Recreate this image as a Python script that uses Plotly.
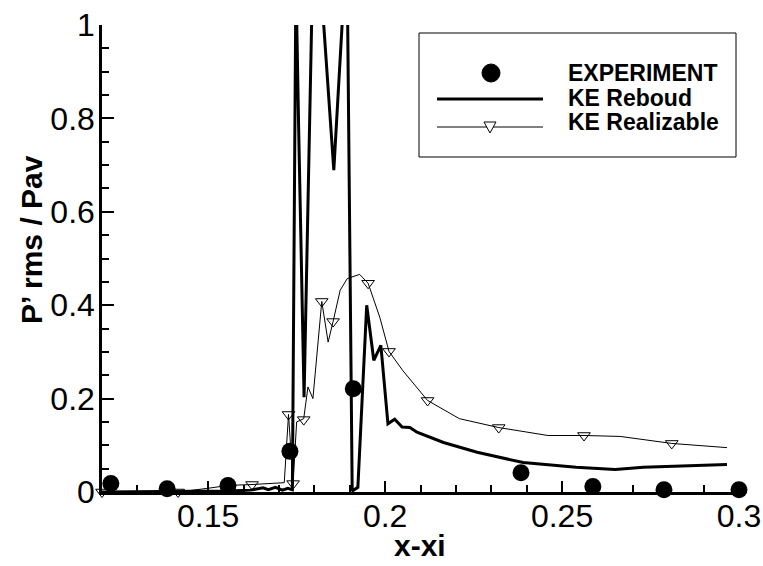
import plotly.graph_objects as go

# ---------------- data ----------------
exp_x = [0.1225, 0.1384, 0.1556, 0.1731, 0.1910, 0.2384, 0.2587, 0.2788, 0.3000]
exp_y = [0.018, 0.007, 0.014, 0.087, 0.221, 0.041, 0.012, 0.005, 0.005]

reboud_x = [0.1200, 0.1400, 0.1550, 0.1620, 0.1655, 0.1670, 0.1690, 0.1710, 0.1725,
            0.1738, 0.1748, 0.1756, 0.1771, 0.1800, 0.1855, 0.1892, 0.1907, 0.1923,
            0.1948, 0.1968, 0.1988, 0.2008, 0.2027, 0.2048, 0.2070, 0.2090, 0.2165,
            0.2260, 0.2390, 0.2540, 0.2650, 0.2730, 0.2966]
reboud_y = [0.000, 0.001, 0.002, 0.004, 0.009, 0.005, 0.010, 0.004, 0.008,
            0.005, 1.100, 0.768, 0.203, 1.290, 0.689, 1.180, 0.002, 0.010,
            0.400, 0.282, 0.314, 0.146, 0.156, 0.139, 0.138, 0.128, 0.106,
            0.085, 0.063, 0.053, 0.048, 0.053, 0.059]

real_x = [0.1200, 0.1415, 0.1500, 0.1556, 0.1624, 0.1700, 0.1715, 0.1727, 0.1740,
          0.1750, 0.1770, 0.1782, 0.1796, 0.1821, 0.1839, 0.1853, 0.1873, 0.1893,
          0.1928, 0.1952, 0.1985, 0.2011, 0.2050, 0.2120, 0.2210, 0.2321, 0.2460,
          0.2562, 0.2664, 0.2810, 0.2966]
real_y = [0.000, 0.000, 0.008, 0.014, 0.016, 0.018, 0.020, 0.166, 0.018,
          0.150, 0.157, 0.225, 0.200, 0.408, 0.321, 0.365, 0.432, 0.457,
          0.466, 0.447, 0.374, 0.301, 0.260, 0.196, 0.157, 0.138, 0.121,
          0.121, 0.119, 0.104, 0.095]

real_mk_x = [0.1200, 0.1415, 0.1624, 0.1740, 0.1727, 0.1770, 0.1821, 0.1853,
             0.1952, 0.2011, 0.2120, 0.2321, 0.2562, 0.2810]
real_mk_y = [0.000, 0.000, 0.016, 0.018, 0.166, 0.155, 0.408, 0.365,
             0.447, 0.301, 0.196, 0.138, 0.121, 0.104]

x_ticks = [0.15, 0.2, 0.25, 0.3]
x_ticktext = ["0.15", "0.2", "0.25", "0.3"]
y_ticks = [0, 0.2, 0.4, 0.6, 0.8, 1]
y_ticktext = ["0", "0.2", "0.4", "0.6", "0.8", "1"]

legend_names = ["EXPERIMENT", "KE Reboud", "KE Realizable"]

# ---------------- figure ----------------
W, H = 763, 566
ML, MR, MT, MB = 102, 24, 25, 74
PW, PH = W - ML - MR, H - MT - MB
FONT = "Arial, Liberation Sans, Helvetica, sans-serif"


def px(x):
    return (x - ML) / PW


def py(y):
    return (H - MB - y) / PH


fig = go.Figure()
fig.add_trace(go.Scatter(x=reboud_x, y=reboud_y, mode="lines",
                         line=dict(color="black", width=3), showlegend=False))
fig.add_trace(go.Scatter(x=real_x, y=real_y, mode="lines",
                         line=dict(color="black", width=1), showlegend=False))
fig.add_trace(go.Scatter(x=real_mk_x, y=real_mk_y, mode="markers",
                         marker=dict(symbol="triangle-down-open", size=11, color="black",
                                     line=dict(width=1, color="black")),
                         cliponaxis=False, showlegend=False))
fig.add_trace(go.Scatter(x=exp_x, y=exp_y, mode="markers",
                         marker=dict(symbol="circle", size=17, color="black"),
                         cliponaxis=False, showlegend=False))

# manual legend (Tecplot style)
shapes = [
    dict(type="rect", xref="paper", yref="paper", x0=px(419), x1=px(736), y0=py(157), y1=py(33),
         line=dict(color="black", width=1), fillcolor="white", layer="below"),
    dict(type="circle", xref="paper", yref="paper", x0=px(482), x1=px(500), y0=py(82), y1=py(64),
         line=dict(color="black", width=1), fillcolor="black"),
    dict(type="line", xref="paper", yref="paper", x0=px(437), x1=px(543), y0=py(99), y1=py(99),
         line=dict(color="black", width=3)),
    dict(type="line", xref="paper", yref="paper", x0=px(437), x1=px(543), y0=py(127), y1=py(127),
         line=dict(color="black", width=1)),
    dict(type="path", xref="paper", yref="paper",
         path="M %f %f L %f %f L %f %f Z" % (px(484), py(122), px(496), py(122), px(490), py(133)),
         line=dict(color="black", width=1), fillcolor="white"),
]
annotations = []
for name, yy in zip(legend_names, [73, 98, 122]):
    annotations.append(dict(text="<b>%s</b>" % name, xref="paper", yref="paper",
                            x=px(566), y=py(yy), xanchor="left", yanchor="middle",
                            showarrow=False, font=dict(family=FONT, size=23, color="black")))
annotations.append(dict(text="<b>x-xi</b>", xref="paper", yref="paper", x=px(420), y=py(545),
                        xanchor="center", yanchor="middle", showarrow=False,
                        font=dict(family=FONT, size=30, color="black")))
annotations.append(dict(text="<b>P’ rms / Pav</b>", xref="paper", yref="paper", x=px(31), y=py(240),
                        xanchor="center", yanchor="middle", textangle=-90, showarrow=False,
                        font=dict(family=FONT, size=30, color="black")))

fig.update_layout(
    width=W, height=H,
    margin=dict(l=ML, r=MR, t=MT, b=MB, autoexpand=False),
    paper_bgcolor="white", plot_bgcolor="white",
    showlegend=False,
    shapes=shapes, annotations=annotations,
    font=dict(family=FONT, size=30, color="black"),
)
fig.update_xaxes(range=[0.12, 0.3], showgrid=False, zeroline=False,
                 showline=True, linecolor="black", linewidth=2.5,
                 tickvals=x_ticks, ticktext=x_ticktext,
                 ticks="inside", ticklen=11, tickwidth=2, tickcolor="black",
                 ticklabelstandoff=-6,
                 minor=dict(dtick=0.01, tick0=0.12, ticks="inside", ticklen=7, tickwidth=1.5,
                            tickcolor="black", showgrid=False),
                 tickfont=dict(family=FONT, size=32, color="black"))
fig.update_yaxes(range=[0, 1], showgrid=False, zeroline=False,
                 showline=True, linecolor="black", linewidth=2.5,
                 tickvals=y_ticks, ticktext=y_ticktext,
                 ticks="inside", ticklen=12, tickwidth=2, tickcolor="black",
                 ticklabelstandoff=-2,
                 minor=dict(dtick=0.05, tick0=0, ticks="inside", ticklen=7, tickwidth=1.5,
                            tickcolor="black", showgrid=False),
                 tickfont=dict(family=FONT, size=32, color="black"))

fig.write_html("out.html")
